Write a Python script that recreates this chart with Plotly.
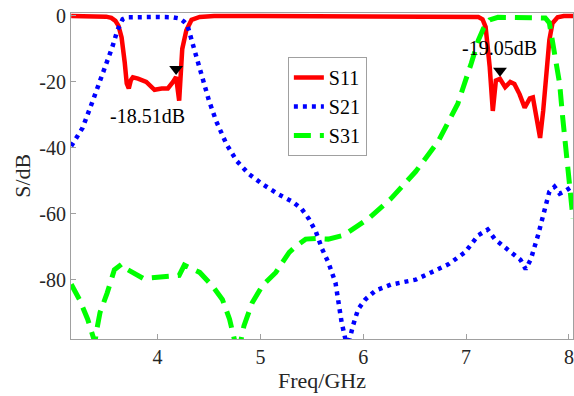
import plotly.graph_objects as go

# ---------------- data ----------------
freq_s11 = [3.16, 3.40, 3.50, 3.55, 3.59, 3.62, 3.65, 3.68, 3.70, 3.72, 3.74, 3.76, 3.81, 3.89,
            3.97, 4.04, 4.10, 4.15, 4.18, 4.21, 4.24, 4.28, 4.33, 4.41, 4.55, 5.00, 6.00,
            7.00, 7.12, 7.16, 7.19, 7.23, 7.26, 7.29, 7.33, 7.38, 7.43, 7.47, 7.52, 7.57,
            7.62, 7.65, 7.68, 7.72, 7.75, 7.78, 7.81, 7.84, 7.89, 7.95, 8.04]
s11 = [0.0, 0.0, -0.2, -0.6, -1.5, -3.0, -6.5, -14.0, -20.5, -22.0, -19.5, -18.6, -19.0, -20.0,
       -22.4, -22.0, -22.0, -20.0, -18.51, -25.7, -10.0, -4.3, -1.2, -0.3, 0.0, 0.0, -0.2,
       -0.2, -0.3, -1.0, -3.3, -15.5, -28.8, -19.6, -19.05, -21.6, -20.0, -20.6, -23.7, -27.8,
       -25.0, -24.7, -29.8, -37.0, -28.8, -18.6, -7.3, -2.2, -0.4, 0.0, 0.0]

freq_s21 = [3.16, 3.27, 3.37, 3.47, 3.56, 3.61, 3.66, 3.70, 3.80, 4.00, 4.15, 4.22, 4.26, 4.29,
            4.34, 4.41, 4.47, 4.50, 4.57, 4.67, 4.77, 4.89, 5.02, 5.18, 5.31, 5.40, 5.47,
            5.54, 5.60, 5.66, 5.73, 5.76, 5.79, 5.83, 5.86, 5.90, 5.95, 6.02, 6.12, 6.27,
            6.51, 6.66, 6.83, 6.99, 7.12, 7.21, 7.28, 7.41, 7.53, 7.58, 7.63, 7.70, 7.76,
            7.81, 7.86, 7.91, 7.97, 8.04]
s21 = [-39.5, -34.0, -25.7, -17.5, -9.4, -4.3, -1.0, -0.4, -0.3, -0.3, -0.4, -0.8, -1.8, -2.8,
       -8.3, -15.6, -22.7, -25.7, -31.9, -38.9, -44.0, -48.0, -51.0, -54.2, -56.3, -58.5, -61.5,
       -65.5, -70.7, -74.7, -80.9, -87.0, -93.0, -98.5, -99.0, -94.0, -89.0, -86.0, -83.3, -81.5,
       -80.0, -77.8, -75.3, -71.7, -66.5, -64.8, -67.7, -71.0, -74.0, -76.8, -73.8, -66.5, -59.4,
       -53.3, -51.8, -53.9, -53.0, -51.5]

freq_s31 = [3.16, 3.24, 3.32, 3.37, 3.39, 3.41, 3.44, 3.51, 3.58, 3.65, 3.70, 3.86, 4.02, 4.21,
            4.26, 4.41, 4.53, 4.63, 4.70, 4.75, 4.78, 4.81, 4.84, 4.92, 5.02, 5.15, 5.28, 5.34,
            5.44, 5.54, 5.66, 5.81, 5.96, 6.05, 6.27, 6.51, 6.73, 6.92, 7.05, 7.12, 7.17,
            7.23, 7.31, 7.50, 7.70, 7.77, 7.81, 7.86, 7.91, 7.94, 7.97, 8.01, 8.04]
s31 = [-81.4, -86.0, -92.0, -97.0, -99.0, -95.0, -90.0, -84.0, -77.0, -75.3, -76.8, -79.6, -79.3,
       -78.7, -75.6, -77.8, -81.8, -86.0, -92.0, -98.5, -99.5, -98.5, -94.0, -87.0, -81.8, -77.8,
       -71.7, -70.0, -67.7, -67.5, -67.7, -66.5, -63.4, -61.5, -55.4, -47.2, -38.0, -26.6,
       -14.4, -7.3, -3.7, -1.2, -0.4, -0.4, -0.4, -0.6, -2.1, -10.4, -20.5, -30.9, -41.0,
       -51.0, -61.5]

marker_freq = [4.18, 7.33]
marker_db = [-18.51, -19.05]
label_freq = [3.90, 7.33]
label_db = [-30.3, -9.8]

x_ticks = [4, 5, 6, 7, 8]
y_ticks = [0, -20, -40, -60, -80]

FONT = "Liberation Serif"

fig = go.Figure()
fig.add_trace(go.Scatter(x=freq_s11, y=s11, name="S11", mode="lines",
                         line=dict(color="#ff0000", width=4.5)))
fig.add_trace(go.Scatter(x=freq_s21, y=s21, name="S21", mode="lines",
                         line=dict(color="#0000ff", width=4.5, dash="4px,5px")))
fig.add_trace(go.Scatter(x=freq_s31, y=s31, name="S31", mode="lines",
                         line=dict(color="#00ff00", width=5, dash="17px,9px")))
fig.add_trace(go.Scatter(x=marker_freq, y=[v + 2.4 for v in marker_db], mode="markers",
                         showlegend=False,
                         marker=dict(symbol="triangle-down", size=12, color="black")))
for fx, fy, lx, ly in zip(marker_freq, marker_db, label_freq, label_db):
    fig.add_annotation(x=lx, y=ly, text=f"{fy:.2f}dB", showarrow=False,
                       font=dict(family=FONT, size=20, color="black"))

# y axis title placed as paper annotation
fig.add_annotation(x=-0.098, y=0.5, xref="paper", yref="paper", text="S/dB",
                   textangle=-90, showarrow=False, xanchor="center", yanchor="middle",
                   font=dict(family=FONT, size=22, color="#262626"))

axis_common = dict(showline=True, linecolor="#a0a0a0", linewidth=1, mirror=True,
                   ticks="inside", ticklen=5, tickcolor="#a0a0a0", showgrid=False,
                   zeroline=False, tickfont=dict(family=FONT, size=20, color="#262626"))
fig.update_xaxes(range=[3.158, 8.04], tickvals=x_ticks, ticktext=[str(v) for v in x_ticks],
                 title=dict(text="Freq/GHz", font=dict(family=FONT, size=22, color="#262626"),
                            standoff=4),
                 **axis_common)
fig.update_yaxes(range=[-98, 0.9], tickvals=y_ticks, ticktext=[str(v) for v in y_ticks],
                 **axis_common)

fig.update_layout(
    width=574, height=396,
    margin=dict(l=71, r=1, t=13, b=57),
    paper_bgcolor="white", plot_bgcolor="white",
    font=dict(family=FONT),
    legend=dict(x=0.432, y=0.865, xanchor="left", yanchor="top",
                bgcolor="white", bordercolor="#a0a0a0", borderwidth=1,
                font=dict(family=FONT, size=20, color="black"),
                itemwidth=30, tracegroupgap=0),
    showlegend=True,
)

fig.write_html("out.html")
